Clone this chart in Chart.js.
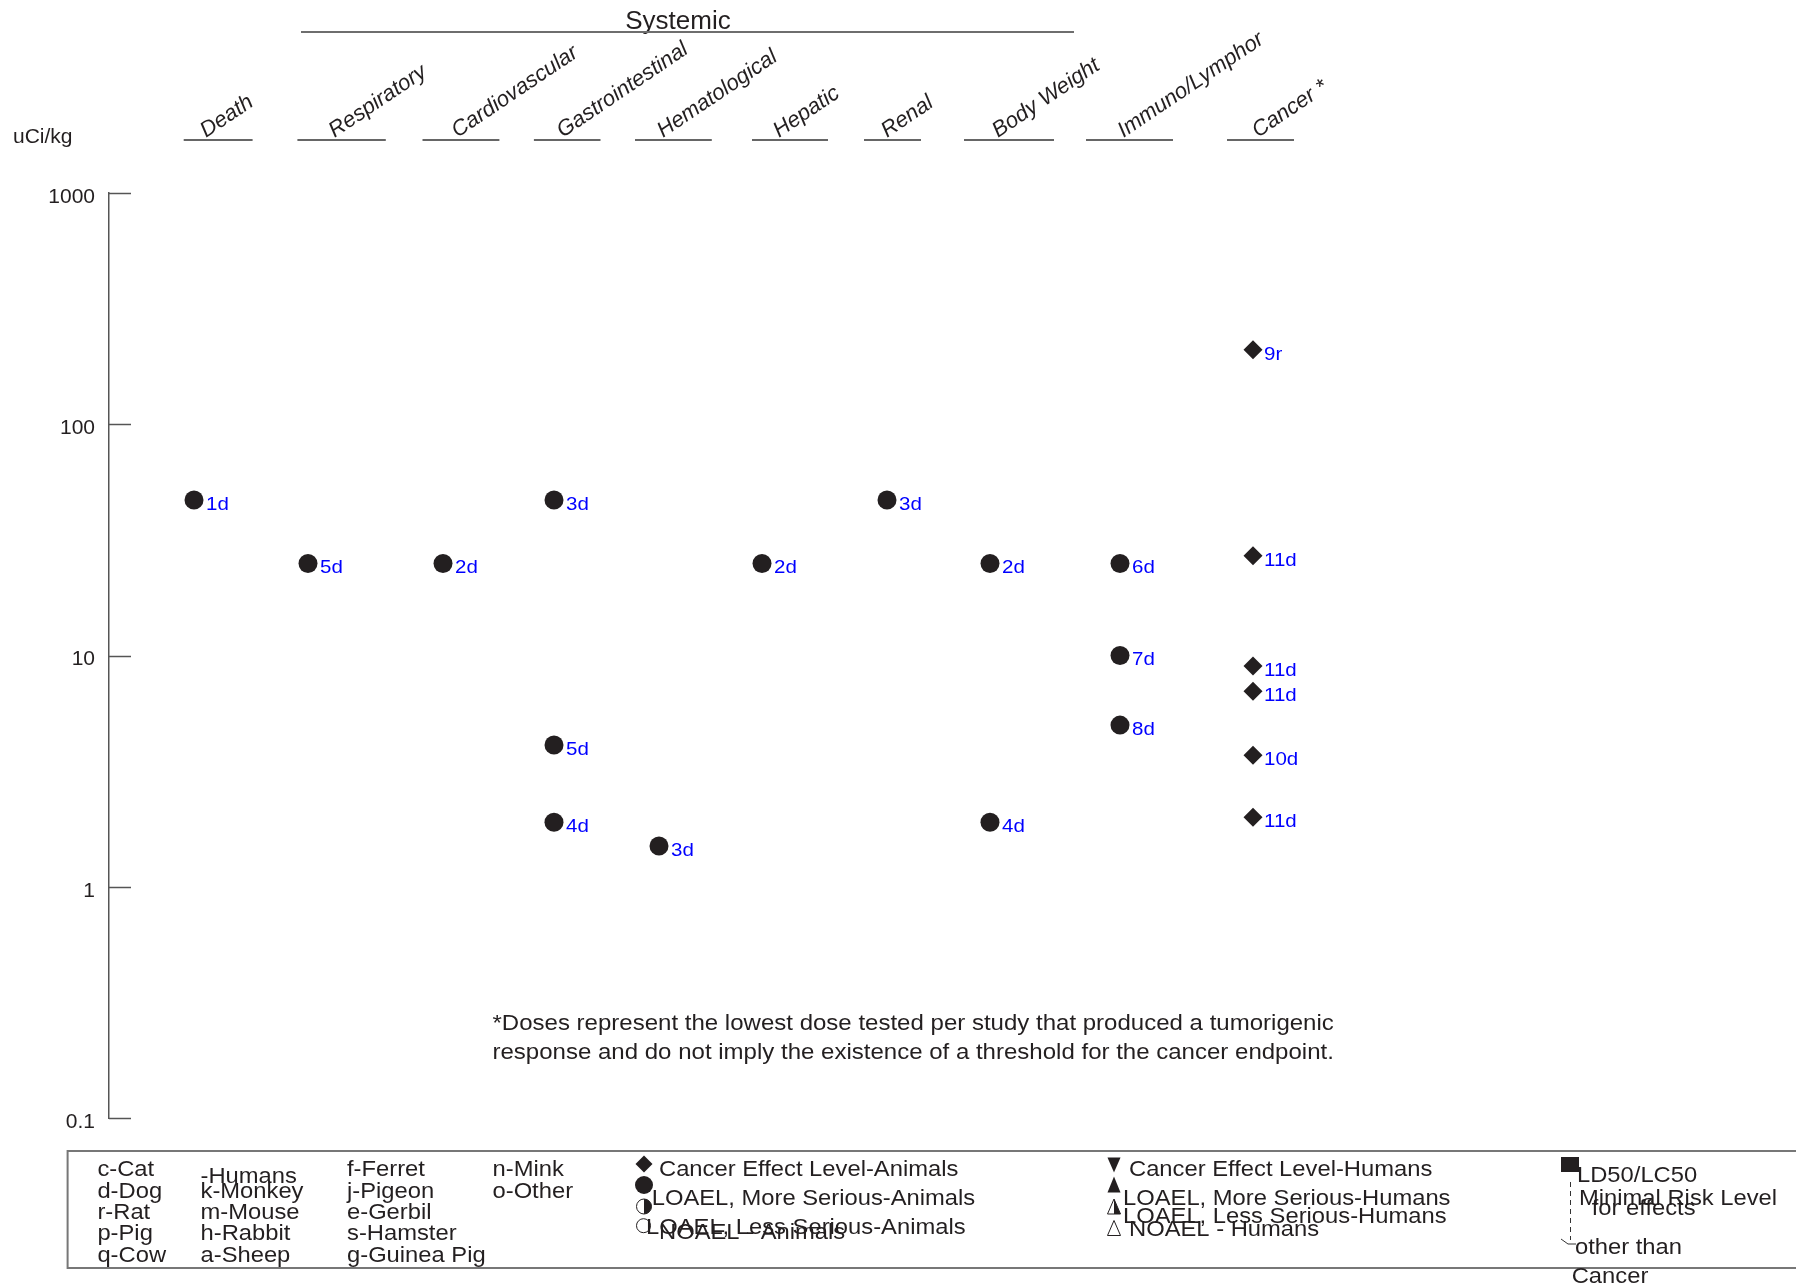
<!DOCTYPE html>
<html>
<head>
<meta charset="utf-8">
<script src="https://cdn.jsdelivr.net/npm/chart.js@4/dist/chart.umd.min.js"></script>
<style>
  html, body { margin: 0; padding: 0; background: #fff; }
  canvas { display: block; }
</style>
</head>
<body>
<canvas id="chart" width="1796" height="1285"></canvas>
<script>
// ---- Endpoint columns ----
const categories = ['Death', 'Respiratory', 'Cardiovascular', 'Gastrointestinal', 'Hematological',
                    'Hepatic', 'Renal', 'Body Weight', 'Immuno/Lymphor', 'Cancer *'];
// position of each endpoint column along the x-axis
const categoryPos = [0.85, 1.99, 3.34, 4.45, 5.50, 6.53, 7.78, 8.81, 10.11, 11.44];

// ---- LOAEL, more serious (animals) ----
const loaelCategory = [0, 1, 2, 3, 3, 3, 4, 5, 6, 7, 7, 8, 8, 8];
const loaelDose     = [47, 25, 25, 47, 4.1, 1.9, 1.5, 25, 47, 25, 1.9, 25, 10, 5];
const loaelLabel    = ['1d', '5d', '2d', '3d', '5d', '4d', '3d', '2d', '3d', '2d', '4d', '6d', '7d', '8d'];

// ---- Cancer effect level (animals) ----
const cancerCategory = [9, 9, 9, 9, 9, 9];
const cancerDose     = [210, 27, 9, 7, 3.7, 2];
const cancerLabel    = ['9r', '11d', '11d', '11d', '10d', '11d'];

// ---- Dose axis (uCi/kg) ----
const yTicks = [0.1, 1, 10, 100, 1000];

// ---- Species key ----
const speciesCols = [
  ['c-Cat', 'd-Dog', 'r-Rat', 'p-Pig', 'q-Cow'],
  ['-Humans', 'k-Monkey', 'm-Mouse', 'h-Rabbit', 'a-Sheep'],
  ['f-Ferret', 'j-Pigeon', 'e-Gerbil', 's-Hamster', 'g-Guinea Pig'],
  ['n-Mink', 'o-Other']
];
const footnote = [
  '*Doses represent the lowest dose tested per study that produced a tumorigenic',
  'response and do not imply the existence of a threshold for the cancer endpoint.'
];

// ---- Layout of the header (x in axis units) ----
const headerUnderline = [[0.747, 1.436], [1.884, 2.768], [3.135, 3.904], [4.249, 4.915], [5.26, 6.028],
                         [6.43, 7.19], [7.55, 8.12], [8.55, 9.45], [9.77, 10.64], [11.18, 11.85]];
const headerTextX = [0.97, 2.256, 3.486, 4.537, 5.54, 6.70, 7.78, 8.89, 10.146, 11.49];
const systemicSpan = [1.92, 9.65];

const FONT = '"Liberation Sans", Arial, Helvetica, sans-serif';
const INK = '#231f20';
const LABEL_BLUE = '#0000ff';

function text(ctx, s, x, yCenter, size, o = {}) {
  ctx.save();
  ctx.font = (o.italic ? 'italic ' : '') + size + 'px ' + FONT;
  ctx.fillStyle = o.color || INK;
  ctx.textAlign = o.align || 'left';
  ctx.textBaseline = 'alphabetic';
  ctx.translate(x, o.baseline ? yCenter : yCenter + 0.358 * size);
  if (o.rotate) ctx.rotate(o.rotate);
  ctx.scale(o.stretch || 1, 1);
  ctx.fillText(s, 0, 0);
  ctx.restore();
}

const whiteBg = {
  id: 'whiteBg',
  beforeDraw(chart) {
    const ctx = chart.ctx;
    ctx.save();
    ctx.fillStyle = '#fff';
    ctx.fillRect(0, 0, chart.width, chart.height);
    ctx.restore();
  }
};

// tick marks pointing into the plot
const innerTicks = {
  id: 'innerTicks',
  afterDraw(chart) {
    const ctx = chart.ctx, y = chart.scales.y, left = chart.chartArea.left;
    ctx.save();
    ctx.strokeStyle = '#555';
    ctx.lineWidth = 1.5;
    yTicks.forEach(v => {
      const py = Math.round(y.getPixelForValue(v)) + 0.5;
      ctx.beginPath();
      ctx.moveTo(left, py);
      ctx.lineTo(left + 22, py);
      ctx.stroke();
    });
    ctx.restore();
  }
};

// study labels beside each point
const pointLabels = {
  id: 'pointLabels',
  afterDatasetsDraw(chart) {
    const ctx = chart.ctx;
    chart.data.datasets.forEach((ds, i) => {
      const meta = chart.getDatasetMeta(i);
      meta.data.forEach((el, j) => {
        text(ctx, ds.pointText[j], el.x + ds.labelGap, el.y + 3, 19, { color: LABEL_BLUE, stretch: 1.08 });
      });
    });
  }
};

// column headings, units and group bracket
const header = {
  id: 'header',
  afterDraw(chart) {
    const ctx = chart.ctx, x = chart.scales.x;
    text(ctx, 'uCi/kg', 13, 135, 21);
    text(ctx, 'Systemic', 678, 28.6, 26, { align: 'center', baseline: true });
    ctx.save();
    ctx.strokeStyle = '#6e6e6e';
    ctx.lineWidth = 2;
    ctx.beginPath();
    ctx.moveTo(x.getPixelForValue(systemicSpan[0]), 32);
    ctx.lineTo(x.getPixelForValue(systemicSpan[1]), 32);
    ctx.stroke();
    ctx.strokeStyle = '#333';
    ctx.lineWidth = 1.5;
    headerUnderline.forEach(([a, b]) => {
      ctx.beginPath();
      ctx.moveTo(x.getPixelForValue(a), 140);
      ctx.lineTo(x.getPixelForValue(b), 140);
      ctx.stroke();
    });
    ctx.restore();
    categories.forEach((c, i) => {
      text(ctx, c, x.getPixelForValue(headerTextX[i]), 138, 22,
           { italic: true, baseline: true, rotate: -34 * Math.PI / 180 });
    });
    footnote.forEach((line, i) => text(ctx, line, 492.5, 1021.7 + i * 29.8, 22, { stretch: 1.092 }));
  }
};

// key box below the plot
const keyBox = {
  id: 'keyBox',
  afterDraw(chart) {
    const ctx = chart.ctx;
    const S = 22, ST = 1.08;
    ctx.save();
    ctx.strokeStyle = '#777';
    ctx.lineWidth = 2;
    ctx.strokeRect(67.6, 1151, 1800, 117);
    ctx.restore();

    const colX = [97.4, 200.5, 347, 492.5];
    const rowY = [1168, 1190, 1211, 1232.5, 1254];
    speciesCols.forEach((col, ci) => col.forEach((s, ri) => {
      const yy = (ci === 1 && ri === 0) ? 1175 : rowY[ri];
      text(ctx, s, colX[ci], yy, S, { stretch: ST });
    }));

    ctx.save();
    ctx.fillStyle = INK;
    ctx.strokeStyle = INK;
    ctx.lineWidth = 1;
    // diamond
    ctx.beginPath();
    ctx.moveTo(644, 1164 - 8.5); ctx.lineTo(644 + 8.5, 1164); ctx.lineTo(644, 1164 + 8.5); ctx.lineTo(644 - 8.5, 1164);
    ctx.closePath(); ctx.fill();
    // filled circle
    ctx.beginPath(); ctx.arc(644, 1185, 9, 0, Math.PI * 2); ctx.fill();
    // half circle
    ctx.beginPath(); ctx.arc(644, 1206.5, 7.5, 0, Math.PI * 2); ctx.stroke();
    ctx.beginPath(); ctx.arc(644, 1206.5, 7.5, -Math.PI / 2, Math.PI / 2); ctx.closePath(); ctx.fill();
    // open circle
    ctx.beginPath(); ctx.arc(643.5, 1225.7, 7, 0, Math.PI * 2); ctx.stroke();

    // human triangles
    const tx = 1114, hw = 6.5, hh = 7.5;
    ctx.beginPath();
    ctx.moveTo(tx - hw, 1165 - hh); ctx.lineTo(tx + hw, 1165 - hh); ctx.lineTo(tx, 1165 + hh); ctx.closePath(); ctx.fill();
    ctx.beginPath();
    ctx.moveTo(tx, 1185 - hh - 1); ctx.lineTo(tx + hw, 1185 + hh); ctx.lineTo(tx - hw, 1185 + hh); ctx.closePath(); ctx.fill();
    ctx.beginPath();
    ctx.moveTo(tx, 1206.5 - hh); ctx.lineTo(tx + hw, 1206.5 + hh); ctx.lineTo(tx - hw, 1206.5 + hh); ctx.closePath(); ctx.stroke();
    ctx.beginPath();
    ctx.moveTo(tx, 1206.5 - hh); ctx.lineTo(tx + hw, 1206.5 + hh); ctx.lineTo(tx, 1206.5 + hh); ctx.closePath(); ctx.fill();
    ctx.beginPath();
    ctx.moveTo(tx, 1228 - hh); ctx.lineTo(tx + hw, 1228 + hh); ctx.lineTo(tx - hw, 1228 + hh); ctx.closePath(); ctx.stroke();

    // LD50 square
    ctx.fillRect(1561, 1157, 18, 15);
    // minimal risk level arrow
    ctx.strokeStyle = '#333';
    ctx.setLineDash([5, 4]);
    ctx.beginPath(); ctx.moveTo(1570.5, 1182); ctx.lineTo(1570.5, 1240); ctx.stroke();
    ctx.setLineDash([]);
    ctx.beginPath(); ctx.moveTo(1561, 1239); ctx.lineTo(1568, 1244); ctx.lineTo(1576, 1244); ctx.stroke();
    ctx.restore();

    text(ctx, 'Cancer Effect Level-Animals', 659, 1168, S, { stretch: ST });
    text(ctx, 'LOAEL, More Serious-Animals', 651.7, 1197, S, { stretch: ST });
    text(ctx, 'LOAEL, Less Serious-Animals', 646, 1226, S, { stretch: ST });
    text(ctx, 'NOAEL - Animals', 659, 1231, S, { stretch: ST });

    text(ctx, 'Cancer Effect Level-Humans', 1129, 1168, S, { stretch: ST });
    text(ctx, 'LOAEL, More Serious-Humans', 1123, 1197.5, S, { stretch: ST });
    text(ctx, 'LOAEL, Less Serious-Humans', 1123, 1215, S, { stretch: ST });
    text(ctx, 'NOAEL - Humans', 1129, 1228.3, S, { stretch: ST });

    text(ctx, 'LD50/LC50', 1577, 1174.5, S, { stretch: ST });
    text(ctx, 'Minimal Risk Level', 1579, 1197, S, { stretch: ST });
    text(ctx, 'for effects', 1591.7, 1207.5, S, { stretch: ST });
    text(ctx, 'other than', 1575, 1246, S, { stretch: ST });
    text(ctx, 'Cancer', 1571.7, 1275.5, S, { stretch: ST });
  }
};

const loaelPoints = loaelDose.map((v, i) => ({ x: categoryPos[loaelCategory[i]], y: v }));
const cancerPoints = cancerDose.map((v, i) => ({ x: categoryPos[cancerCategory[i]], y: v }));

new Chart(document.getElementById('chart'), {
  type: 'scatter',
  data: {
    datasets: [
      {
        label: 'LOAEL, More Serious-Animals',
        data: loaelPoints,
        pointText: loaelLabel,
        labelGap: 12,
        pointStyle: 'circle',
        pointRadius: 9.5,
        pointBackgroundColor: INK,
        pointBorderWidth: 0,
        clip: false
      },
      {
        label: 'Cancer Effect Level-Animals',
        data: cancerPoints,
        pointText: cancerLabel,
        labelGap: 11,
        pointStyle: 'rectRot',
        pointRadius: 9.5,
        pointBackgroundColor: INK,
        pointBorderWidth: 0,
        clip: false
      }
    ]
  },
  options: {
    responsive: false,
    animation: false,
    events: [],
    layout: { padding: { top: 193, bottom: 167, left: 0, right: 387 } },
    plugins: { legend: { display: false }, tooltip: { enabled: false } },
    scales: {
      x: { type: 'linear', min: 0, max: 13, display: false },
      y: {
        type: 'logarithmic',
        min: 0.1,
        max: 1000,
        afterFit(scale) { scale.width = 109; },
        afterBuildTicks(scale) { scale.ticks = yTicks.map(v => ({ value: v })); },
        grid: { display: false, drawTicks: false },
        border: { display: true, color: '#555', width: 1.5 },
        ticks: {
          autoSkip: false,
          padding: 14,
          labelOffset: 4,
          color: INK,
          font: { family: FONT, size: 21 },
          callback: v => String(v)
        }
      }
    }
  },
  plugins: [whiteBg, innerTicks, pointLabels, header, keyBox]
});
</script>
</body>
</html>
